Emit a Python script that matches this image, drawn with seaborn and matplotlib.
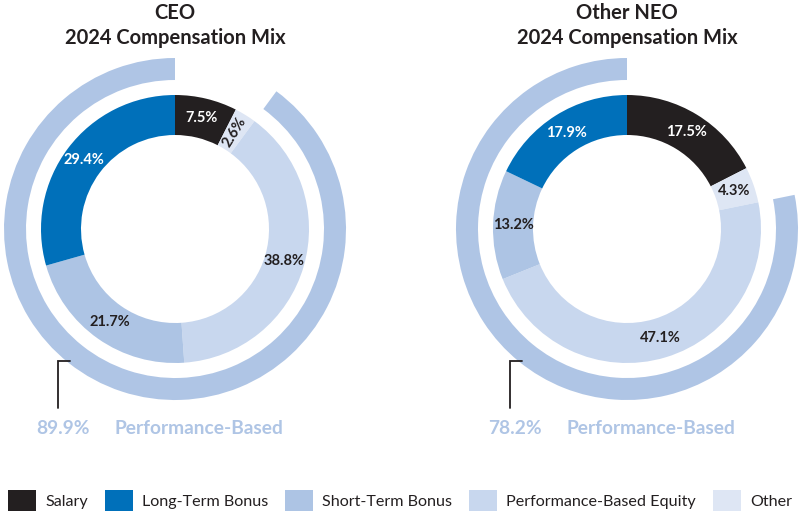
import matplotlib
matplotlib.use("Agg")
import numpy as np
import seaborn as sns
import matplotlib.pyplot as plt
from matplotlib.patches import Patch

# --- datos ---
categories = ["Salary", "Other", "Performance-Based Equity", "Short-Term Bonus", "Long-Term Bonus"]
ceo_values = [7.5, 2.6, 38.8, 21.7, 29.4]
neo_values = [17.5, 4.3, 47.1, 13.2, 17.9]
perf_based = [89.9, 78.2]
panel_names = ["CEO", "Other NEO"]
subtitle = "2024 Compensation Mix"
perf_label = "Performance-Based"
legend_order = ["Salary", "Long-Term Bonus", "Short-Term Bonus", "Performance-Based Equity", "Other"]

palette = {
    "Salary": "#231F20",
    "Long-Term Bonus": "#0070BA",
    "Short-Term Bonus": "#ADC4E4",
    "Performance-Based Equity": "#C8D7EE",
    "Other": "#DEE6F4",
}
outer_color = "#AFC5E5"
dark = "#231F20"

sns.set_theme(style="white")
plt.rcParams["font.family"] = ["Lato", "DejaVu Sans"]

W, H = 800, 517
fig = plt.figure(figsize=(W / 100, H / 100), dpi=100)
ax = fig.add_axes([0, 0, 1, 1])

centers = [(175, 288), (627, 288)]
r_in, w_in = 134, 40
r_out, w_out = 171, 22

for (cx, cy), name, vals, perf in zip(centers, panel_names, [ceo_values, neo_values], perf_based):
    # anillo interior
    wedges, _, autotexts = ax.pie(
        vals, radius=r_in, center=(cx, cy), startangle=90, counterclock=False,
        colors=[palette[c] for c in categories],
        wedgeprops=dict(width=w_in, linewidth=0),
        autopct="%.1f%%", pctdistance=(r_in - w_in / 2) / r_in,
        textprops=dict(fontsize=10.5, fontweight="bold"),
    )
    for cat, v, w, t in zip(categories, vals, wedges, autotexts):
        t.set_color("white" if cat in ("Salary", "Long-Term Bonus") else dark)
        if v < 3:
            mid = (w.theta1 + w.theta2) / 2
            t.set_rotation(mid)

    # anillo exterior: performance-based
    ax.pie(
        [100 - perf, perf], radius=r_out, center=(cx, cy), startangle=90, counterclock=False,
        colors=["none", outer_color], wedgeprops=dict(width=w_out, linewidth=0),
    )

    # titulos
    ax.text(cx, 504, name, ha="center", va="center", fontsize=14.5, fontweight="bold", color=dark)
    ax.text(cx, 479, subtitle, ha="center", va="center", fontsize=14.5, fontweight="bold", color=dark)

    # corchete y texto inferior
    ax.plot([cx - 105, cx - 117, cx - 117], [cy - 132, cy - 132, cy - 179], color=dark, lw=1.3,
            solid_joinstyle="miter")
    ax.text(cx - 139, cy - 199, f"{perf:.1f}%", ha="left", va="center", fontsize=13.8,
            fontweight="bold", color=outer_color)
    ax.text(cx - 60, cy - 199, perf_label, ha="left", va="center", fontsize=13.8,
            fontweight="bold", color=outer_color)

ax.set_xlim(0, W)
ax.set_ylim(0, H)
ax.set_aspect("equal")
ax.axis("off")

handles = [Patch(facecolor=palette[c], edgecolor="none", label=c) for c in legend_order]
fig.legend(handles=handles, loc="center", bbox_to_anchor=(0.5, (H - 500.5) / H), ncol=5,
           frameon=False, fontsize=11.6, handlelength=1.74, handleheight=1.68,
           handletextpad=0.56, columnspacing=1.05, labelcolor=dark, borderpad=0)

fig.savefig("out.png", dpi=100, facecolor="white")
